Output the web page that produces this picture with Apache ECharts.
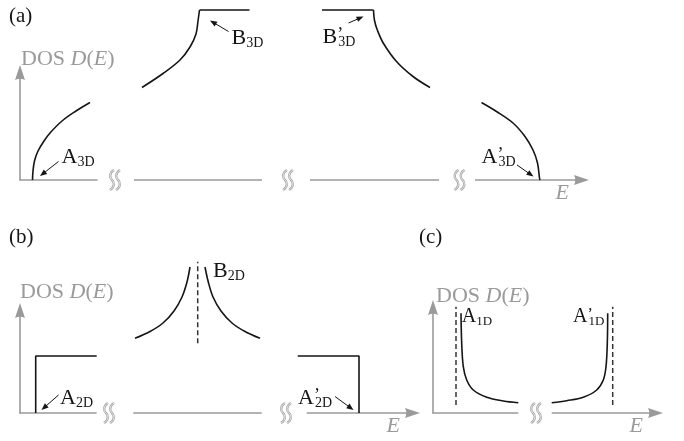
<!DOCTYPE html>
<html><head><meta charset="utf-8">
<script src="https://cdn.jsdelivr.net/npm/echarts@6/dist/echarts.min.js"></script>
<style>html,body{margin:0;padding:0;background:#fff}#c{width:684px;height:441px}</style>
</head><body><div id="c"></div>
<script>
// ===== data (energy E and density of states D, arbitrary units) =====
// Panel (a): 3D
const aA3D_E  = [1.25, 1.3, 1.45, 1.8, 2.4, 3.0, 4.2, 5.6, 7.0];
const aA3D_D  = [0, 0.9, 1.9, 2.9, 3.9, 4.7, 5.9, 6.9, 7.75];
const aB3D_E  = [12.2, 14.3, 16.0, 17.0, 17.6, 17.8, 17.95];
const aB3D_D  = [9.25, 10.65, 12.0, 13.3, 14.6, 15.9, 17.0];
const aTopL_E = [17.95, 22.95];
const aTopR_E = [30.2, 35.35];
const aTop_D  = [17.0, 17.0];
const aB3Dp_E = [35.35, 35.45, 35.75, 36.35, 37.65, 39.3, 41.0];
const aB3Dp_D = [17.0, 15.95, 14.95, 13.65, 11.85, 10.35, 9.25];
const aA3Dp_E = [46.15, 47.65, 49.3, 50.5, 51.3, 51.75, 51.95, 52.0];
const aA3Dp_D = [7.75, 6.85, 5.7, 4.35, 3.0, 1.7, 0.2, 0];
const aBreakStart = [7.75, 24.2, 41.9];
const aBreakEnd   = [11.4, 29.0, 45.5];
const aBreakMark  = [9.5, 26.8, 43.95];

// Panel (b): 2D
const bStepL_E = [1.57, 1.57, 7.67];
const bStepL_D = [0, 5.7, 5.7];
const bStepR_E = [27.77, 33.9, 33.9];
const bStepR_D = [5.7, 5.7, 0];
const bB2DL_E  = [11.5, 13.0, 14.3, 15.4, 16.2, 16.7, 17.0];
const bB2DL_D  = [7.47, 8.15, 9.0, 10.2, 11.6, 13.1, 14.6];
const bB2DR_E  = [18.5, 18.83, 19.3, 20.1, 21.2, 22.5, 24.0];
const bB2DR_D  = [14.6, 13.1, 11.6, 10.2, 9.0, 8.15, 7.47];
const bVhs_E   = [17.77, 17.77];
const bVhs_D   = [6.97, 15.13];
const bBreakStart = [7.67, 24.17];
const bBreakEnd   = [11.33, 28.67];
const bBreakMark  = [8.9, 26.6];

// Panel (c): 1D
const cA1D_E  = [2.8, 2.87, 3.03, 3.37, 4.03, 5.37, 7.03, 8.53];
const cA1D_D  = [9.97, 6.97, 4.63, 3.3, 2.3, 1.57, 1.2, 1.03];
const cA1Dp_E = [11.87, 13.37, 15.03, 16.37, 17.03, 17.3, 17.43, 17.47];
const cA1Dp_D = [1.03, 1.23, 1.57, 2.3, 3.3, 4.63, 6.97, 9.97];
const cVhsL_E = [2.3, 2.3];
const cVhsR_E = [17.97, 17.97];
const cVhs_D  = [0.8, 10.63];
const cBreakStart = [8.53];
const cBreakEnd   = [11.87];
const cBreakMark  = [10.3];

// Text
const panelTitles = ['(a)', '(b)', '(c)'];
const yName = 'DOS {i|D}({i|E})';
const xName = 'E';
const aNotes = ['{m|A}{s|3D}', '{m|B}{s|3D}', '{m|B}{p|’}{s|3D}', '{m|A}{p|’}{s|3D}'];
const bNotes = ['{m|A}{s|2D}', '{m|B}{s|2D}', '{m|A}{p|’}{s|2D}'];
const cNotes = ['{c|A}{t|1D}', '{c|A}{q|’}{t|1D}'];

// ===== layout / style =====
const FONT = '"Liberation Serif","Times New Roman",serif';
const GRAY = '#9a9a9a';
const INK = '#151515';
const zip = (xs, ys) => xs.map((x, i) => [x, ys[i]]);
const RICH = {
  m: {fontSize: 22, fontFamily: FONT, color: INK, lineHeight: 22},
  s: {fontSize: 14, fontFamily: FONT, color: INK, lineHeight: 14, padding: [10, 0, 0, 0]},
  p: {fontSize: 18, fontFamily: FONT, color: INK, width: 1, padding: [0, 0, 4, 0]},
  c: {fontSize: 20, fontFamily: FONT, color: INK, lineHeight: 20},
  t: {fontSize: 13, fontFamily: FONT, color: INK, lineHeight: 13, padding: [9, 0, 0, 0]},
  q: {fontSize: 16, fontFamily: FONT, color: INK, width: 1, padding: [0, 0, 4, 0]}
};

const grids = [
  {left: 20, top: 72.5, width: 561.5, height: 107.5},
  {left: 20, top: 310.5, width: 392.5, height: 102.5},
  {left: 433, top: 307.5, width: 222.5, height: 105.5}
];
const xMax = [56.15, 39.25, 22.25];
const yMax = [10.75, 10.25, 10.55];
const yNameGap = [2, 7, 0];
const yNamePad = [1, 0, 3];
const ARROW = 'path://M5,0 L10,15 Q5,12.5 0,15 Z';

const xAxes = grids.map((g, i) => ({
  type: 'value', gridIndex: i, min: 0, max: xMax[i],
  axisLine: {show: true, onZero: false, symbol: ['none', ARROW], symbolSize: [11, 15],
             lineStyle: {color: GRAY, width: 1.6}},
  axisTick: {show: false}, axisLabel: {show: false}, splitLine: {show: false},
  name: xName, nameLocation: 'end', nameGap: -26, nameMoveOverlap: false,
  nameTextStyle: {fontFamily: FONT, fontSize: 22, fontStyle: 'italic', color: GRAY,
                  align: 'left', verticalAlign: 'top', padding: [2, 0, 0, 0]}
}));
const yAxes = grids.map((g, i) => ({
  type: 'value', gridIndex: i, min: 0, max: yMax[i],
  axisLine: {show: true, onZero: false, symbol: ['none', ARROW], symbolSize: [11, 15],
             lineStyle: {color: GRAY, width: 1.6}},
  axisTick: {show: false}, axisLabel: {show: false}, splitLine: {show: false},
  name: yName, nameLocation: 'end', nameGap: yNameGap[i], nameMoveOverlap: false,
  nameTextStyle: {fontFamily: FONT, fontSize: 22, color: GRAY, align: 'left',
                  verticalAlign: 'bottom', padding: [0, 0, 0, yNamePad[i]],
                  rich: {i: {fontFamily: FONT, fontSize: 22, fontStyle: 'italic', color: GRAY}}}
}));

function curve(p, E, D, smooth, dashed) {
  return {type: 'line', xAxisIndex: p, yAxisIndex: p, data: zip(E, D),
    symbol: 'none', smooth: smooth ? 0.35 : false, clip: false, silent: true, z: 5,
    lineStyle: dashed ? {color: '#333', width: 1.5, type: [5, 3]} : {color: INK, width: 1.6}};
}

function squigglePaths(cx, cy) {
  const out = [];
  [-3, 3].forEach(dx => {
    const x = cx + dx;
    const d = `M${x + 2},${cy - 10} C${x - 3},${cy - 7} ${x - 2.5},${cy - 2} ${x},${cy} C${x + 2.5},${cy + 2} ${x + 3},${cy + 7} ${x - 2},${cy + 10}`;
    out.push({type: 'path', shape: {pathData: d}, style: {fill: 'none', stroke: '#a8a8a8', lineWidth: 2.4}});
    out.push({type: 'path', shape: {pathData: d}, style: {fill: 'none', stroke: '#f0f0f0', lineWidth: 0.8}});
  });
  return out;
}
function breaks(p, S, E, M) {
  return {type: 'custom', xAxisIndex: p, yAxisIndex: p, z: 4, silent: true, clip: false,
    data: S.map((s, i) => [s, E[i], M[i]]),
    renderItem: (params, api) => {
      const a = api.coord([api.value(0), 0]);
      const b = api.coord([api.value(1), 0]);
      const m = api.coord([api.value(2), 0]);
      return {type: 'group', children: [
        {type: 'rect', shape: {x: a[0], y: a[1] - 3, width: b[0] - a[0], height: 6}, style: {fill: '#fff'}}
      ].concat(squigglePaths(m[0], m[1]))};
    }};
}
// note anchors: [E, D] of label bottom-left
const aNotePos = [[4.15, 1.15], [21.15, 13.1], [30.25, 13.2], [46.15, 1.15]];
const bNotePos = [[4.0, 0.4], [19.3, 13.1], [27.8, 0.4]];
const cNotePos = [[2.87, 8.6], [14.0, 8.6]];
function notes(p, pos, texts) {
  return {type: 'custom', xAxisIndex: p, yAxisIndex: p, z: 6, silent: true, clip: false,
    data: pos.map((q, i) => [q[0], q[1], i]),
    renderItem: (params, api) => {
      const c = api.coord([api.value(0), api.value(1)]);
      return {type: 'text', x: c[0], y: c[1],
        style: {text: texts[api.value(2)], rich: RICH, align: 'left', verticalAlign: 'bottom',
                fontFamily: FONT, fontSize: 22, fill: INK}};
    }};
}
// annotation arrows [from E, from D, to E, to D]
const aArrowFromE = [3.85, 20.85, 32.85, 49.7];
const aArrowFromD = [1.85, 14.85, 15.7, 1.5];
const aArrowToE   = [2.0, 19.0, 34.35, 51.35];
const aArrowToD   = [0.4, 15.95, 16.35, 0.35];
const bArrowFromE = [3.85, 31.5];
const bArrowFromD = [1.8, 1.65];
const bArrowToE   = [2.15, 33.35];
const bArrowToD   = [0.3, 0.3];
function arrows(p, fe, fd, te, td) {
  return {type: 'custom', xAxisIndex: p, yAxisIndex: p, z: 6, silent: true, clip: false,
    data: fe.map((v, i) => [v, fd[i], te[i], td[i]]),
    renderItem: (params, api) => {
      const a = api.coord([api.value(0), api.value(1)]);
      const b = api.coord([api.value(2), api.value(3)]);
      const dx = b[0] - a[0], dy = b[1] - a[1];
      const L = Math.hypot(dx, dy), ux = dx / L, uy = dy / L;
      const hl = 7, hw = 2.8;
      const bx = b[0] - ux * hl, by = b[1] - uy * hl;
      return {type: 'group', children: [
        {type: 'line', shape: {x1: a[0], y1: a[1], x2: bx + ux, y2: by + uy},
         style: {stroke: INK, lineWidth: 1}},
        {type: 'polygon', shape: {points: [[b[0], b[1]], [bx - uy * hw, by + ux * hw], [bx + uy * hw, by - ux * hw]]},
         style: {fill: INK}}
      ]};
    }};
}

const series = [
  curve(0, aA3D_E, aA3D_D, true), curve(0, aB3D_E, aB3D_D, true),
  curve(0, aTopL_E, aTop_D, false), curve(0, aTopR_E, aTop_D, false),
  curve(0, aB3Dp_E, aB3Dp_D, true), curve(0, aA3Dp_E, aA3Dp_D, true),
  breaks(0, aBreakStart, aBreakEnd, aBreakMark), notes(0, aNotePos, aNotes),
  arrows(0, aArrowFromE, aArrowFromD, aArrowToE, aArrowToD),

  curve(1, bStepL_E, bStepL_D, false), curve(1, bStepR_E, bStepR_D, false),
  curve(1, bB2DL_E, bB2DL_D, true), curve(1, bB2DR_E, bB2DR_D, true),
  curve(1, bVhs_E, bVhs_D, false, true),
  breaks(1, bBreakStart, bBreakEnd, bBreakMark), notes(1, bNotePos, bNotes),
  arrows(1, bArrowFromE, bArrowFromD, bArrowToE, bArrowToD),

  curve(2, cA1D_E, cA1D_D, true), curve(2, cA1Dp_E, cA1Dp_D, true),
  curve(2, cVhsL_E, cVhs_D, false, true), curve(2, cVhsR_E, cVhs_D, false, true),
  breaks(2, cBreakStart, cBreakEnd, cBreakMark), notes(2, cNotePos, cNotes)
];

const titlePos = [[9, 6], [9, 227], [419, 227]];
const chart = echarts.init(document.getElementById('c'), null, {renderer: 'canvas'});
chart.setOption({
  animation: false,
  backgroundColor: '#fff',
  title: panelTitles.map((t, i) => ({text: t, left: titlePos[i][0], top: titlePos[i][1], padding: 0,
    textStyle: {fontFamily: FONT, fontSize: 21, fontWeight: 'normal', color: INK}})),
  grid: grids.map(g => Object.assign({containLabel: false, outerBoundsMode: 'none'}, g)),
  xAxis: xAxes,
  yAxis: yAxes,
  series: series
});
</script></body></html>
